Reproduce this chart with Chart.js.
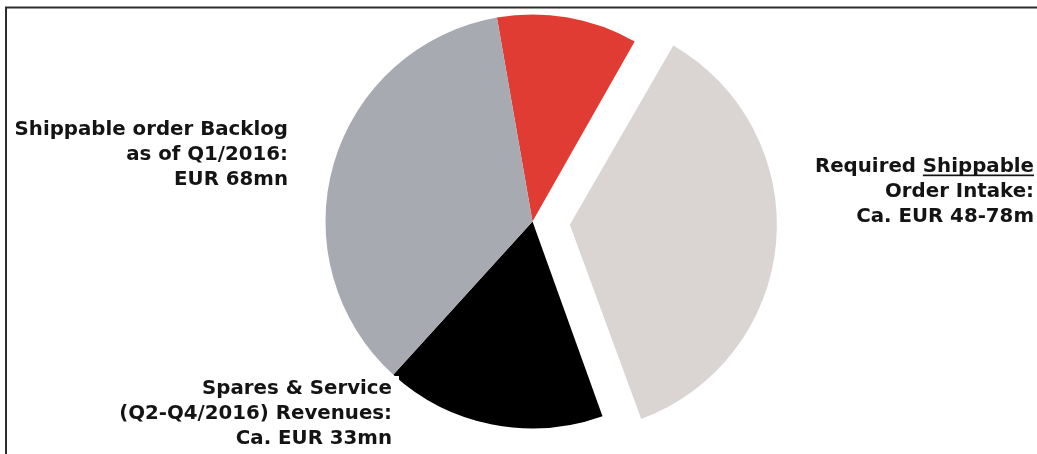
<!DOCTYPE html>
<html>
<head>
<meta charset="utf-8">
<title>Shippable order intake</title>
<script src="https://cdn.jsdelivr.net/npm/chart.js@4"></script>
<style>
  html, body { margin: 0; padding: 0; background: #fff; }
  #wrap { position: relative; width: 1037px; height: 454px; }
</style>
</head>
<body>
<div id="wrap"><canvas id="intake-chart"></canvas></div>
<script>
// slices, clockwise from the top
const segments = ['Gap', 'Required Shippable Order Intake', 'Spares & Service (Q2-Q4/2016)', 'Shippable order Backlog Q1/2016'];
const values = [21, 69.5, 33, 68];           // EUR mn
const colors = ['#e03c33', '#dad5d3', '#000000', '#a8aab2'];
const offsets = [0, 150, 0, 0];

const backlogLabel = ['Shippable order Backlog', 'as of Q1/2016:', 'EUR 68mn'];
const intakeLabel = ['Required Shippable', 'Order Intake:', 'Ca. EUR 48-78m'];
const sparesLabel = ['Spares & Service', '(Q2-Q4/2016) Revenues:', 'Ca. EUR 33mn'];

const FONT = 'bold 19.8px "DejaVu Sans", Verdana, sans-serif';
const LINE = 25.3;

// chart.js grows an offset arc's radius; pull it back so the exploded slice stays the same size
const keepRadius = {
  id: 'keepRadius',
  afterDatasetsUpdate(chart) {
    chart.getDatasetMeta(0).data.forEach((arc) => {
      const off = (arc.options.offset || 0) / 4;
      if (!off) return;
      const fix = 1 - Math.sin(Math.min(Math.PI, arc.circumference));
      arc.outerRadius -= off * fix;
    });
  }
};

function drawLines(ctx, lines, x, y) {
  lines.forEach((t, i) => ctx.fillText(t, x, y + i * LINE));
}

const annotations = {
  id: 'annotations',
  beforeDraw(chart) {
    const ctx = chart.ctx;
    ctx.save();
    ctx.strokeStyle = '#2e2e2e';
    ctx.lineWidth = 2;
    ctx.beginPath();
    ctx.moveTo(6, chart.height);
    ctx.lineTo(6, 7.5);
    ctx.lineTo(chart.width, 7.5);
    ctx.stroke();
    ctx.restore();
  },
  afterDraw(chart) {
    const ctx = chart.ctx;
    ctx.save();
    ctx.font = FONT;
    ctx.textAlign = 'right';
    ctx.textBaseline = 'alphabetic';
    ctx.fillStyle = '#141414';

    drawLines(ctx, backlogLabel, 288, 134.5);

    const rx = 1034;
    drawLines(ctx, intakeLabel, rx, 171.5);
    const w = ctx.measureText('Shippable').width;
    ctx.fillRect(rx - w, 174.5, w, 1.7);

    // the spares label sits on a white panel over the pie
    ctx.fillStyle = '#fff';
    ctx.fillRect(8, 376, 391, chart.height - 376);
    ctx.fillStyle = '#141414';
    drawLines(ctx, sparesLabel, 392, 393.5);
    ctx.restore();
  }
};

new Chart(document.getElementById('intake-chart'), {
  type: 'pie',
  data: {
    labels: segments,
    datasets: [{
      data: values,
      backgroundColor: colors,
      offset: offsets,
      borderWidth: 0
    }]
  },
  options: {
    responsive: true,
    maintainAspectRatio: false,
    animation: false,
    events: [],
    rotation: -9.9,
    radius: 207,
    layout: { padding: { left: 28, right: 0, top: 0, bottom: 11 } },
    plugins: {
      legend: { display: false },
      tooltip: { enabled: false }
    }
  },
  plugins: [keepRadius, annotations]
});
</script>
</body>
</html>
